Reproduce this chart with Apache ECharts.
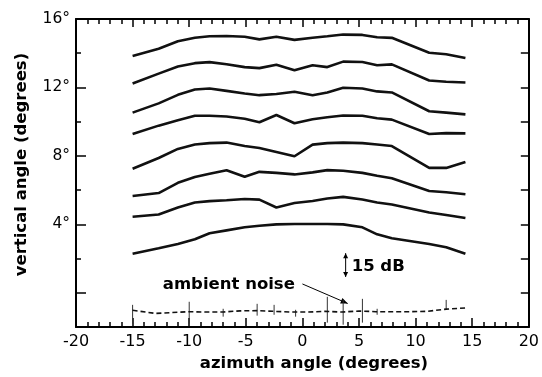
<!DOCTYPE html>
<html><head><meta charset="utf-8">
<script src="https://cdn.jsdelivr.net/npm/echarts@6/dist/echarts.min.js"></script>
<style>html,body{margin:0;padding:0;background:#fff}#c{width:542px;height:377px}</style>
</head><body><div id="c"></div>
<script>
// azimuth sample positions (degrees)
const azimuth = [-15, -12.7, -11, -9.5, -8.2, -6.7, -5.1, -3.8, -2.3, -0.7, 0.9, 2.2, 3.6, 5.3, 6.6, 7.9, 11.2, 12.7, 14.4];
// response curves, plotted at their vertical-angle offsets (top to bottom)
const curve1 = [13.84, 14.26, 14.70, 14.90, 14.99, 15.01, 14.96, 14.81, 14.96, 14.78, 14.90, 14.99, 15.09, 15.07, 14.93, 14.90, 14.03, 13.94, 13.72];
const curve2 = [12.23, 12.81, 13.22, 13.42, 13.48, 13.36, 13.19, 13.13, 13.33, 13.00, 13.30, 13.19, 13.51, 13.49, 13.30, 13.35, 12.41, 12.33, 12.29];
const curve3 = [10.53, 11.07, 11.57, 11.88, 11.94, 11.80, 11.65, 11.55, 11.62, 11.75, 11.55, 11.71, 11.98, 11.94, 11.77, 11.71, 10.61, 10.53, 10.43];
const curve4 = [9.28, 9.77, 10.09, 10.35, 10.35, 10.30, 10.17, 9.97, 10.39, 9.91, 10.14, 10.26, 10.36, 10.35, 10.20, 10.12, 9.28, 9.33, 9.32];
const curve5 = [7.25, 7.88, 8.41, 8.67, 8.75, 8.78, 8.58, 8.46, 8.23, 7.98, 8.66, 8.75, 8.78, 8.75, 8.67, 8.58, 7.30, 7.30, 7.65];
const curve6 = [5.66, 5.83, 6.43, 6.77, 6.96, 7.16, 6.78, 7.07, 7.01, 6.92, 7.04, 7.17, 7.13, 7.01, 6.84, 6.70, 5.95, 5.88, 5.76];
const curve7 = [4.45, 4.58, 4.99, 5.28, 5.36, 5.41, 5.48, 5.45, 4.99, 5.25, 5.37, 5.51, 5.61, 5.45, 5.28, 5.16, 4.70, 4.55, 4.37];
const curve8 = [2.28, 2.61, 2.86, 3.13, 3.48, 3.65, 3.83, 3.92, 4.00, 4.02, 4.02, 4.02, 4.00, 3.83, 3.42, 3.19, 2.86, 2.67, 2.28];
const curves = [curve1, curve2, curve3, curve4, curve5, curve6, curve7, curve8];

// ambient noise
const noiseX = [-15, -13, -11.5, -10, -8.5, -7, -5.5, -4, -2.5, -1, 0.5, 2, 3.5, 5, 6.5, 8, 9.5, 11, 12.7, 14.4];
const noiseY = [-1.02, -1.2, -1.15, -1.1, -1.12, -1.12, -1.05, -1.04, -1.08, -1.12, -1.12, -1.08, -1.12, -1.06, -1.1, -1.1, -1.1, -1.08, -0.95, -0.88];
const errX = [-15, -10, -7, -4, -2.5, -0.6, 2.2, 3.6, 5.3, 6.6, 12.7];
const errLow = [-1.80, -1.80, -1.39, -1.33, -1.28, -1.39, -1.74, -1.86, -1.74, -1.28, -0.99];
const errHigh = [-0.70, -0.52, -0.93, -0.64, -0.70, -0.99, -0.23, -0.41, -0.35, -0.93, -0.41];

// tick labels
const yLabelValues = [4, 8, 12, 16];
const yMajorTicks = [0, 4, 8, 12, 16];

// annotations (data coordinates)
const noiseLabel = { text: 'ambient noise', at: [-6.5, 0.46] };
const noiseArrow = [[0.0, 0.52], [4.0, -0.62]];
const dbLabel = { text: '15 dB', at: [4.35, 1.5] };
const dbArrow = [[3.82, 2.32], [3.82, 0.93]];

const chart = echarts.init(document.getElementById('c'), null, { renderer: 'canvas' });
const FONT = 'DejaVu Sans';
const axisLineStyle = { color: '#000', width: 2 };

const series = curves.map(c => ({
  type: 'line',
  data: azimuth.map((x, i) => [x, c[i]]),
  symbol: 'none',
  lineStyle: { color: '#111', width: 2.6 },
  silent: true,
  animation: false
}));
series.push({
  type: 'line',
  data: noiseX.map((x, i) => [x, noiseY[i]]),
  symbol: 'none',
  lineStyle: { color: '#111', width: 1.6, type: [5, 3] },
  animation: false
});
series.push({
  type: 'custom',
  data: errX.map((x, i) => [x, errLow[i], errHigh[i]]),
  renderItem: (params, api) => {
    const a = api.coord([api.value(0), api.value(1)]);
    const b = api.coord([api.value(0), api.value(2)]);
    return { type: 'line', shape: { x1: a[0], y1: a[1], x2: b[0], y2: b[1] }, style: { stroke: '#333', lineWidth: 1 } };
  },
  animation: false
});

chart.setOption({
  backgroundColor: '#fff',
  animation: false,
  grid: { left: 76, right: 13, top: 19, bottom: 46 },
  xAxis: [{
    type: 'value', position: 'bottom', min: -20, max: 20, interval: 5,
    axisLine: { onZero: false, lineStyle: axisLineStyle },
    axisTick: { inside: true, length: 9, lineStyle: { color: '#000', width: 1.5 } },
    minorTick: { show: true, splitNumber: 5, length: 5, lineStyle: { color: '#000', width: 1.5 } },
    axisLabel: { fontFamily: FONT, fontSize: 16, color: '#000', margin: 7 },
    splitLine: { show: false },
    name: 'azimuth angle (degrees)', nameLocation: 'middle', nameGap: 27,
    nameTextStyle: { fontFamily: FONT, fontWeight: 'bold', fontSize: 16.5, color: '#000', padding: [0, 0, 0, 23] }
  }, {
    type: 'value', position: 'top', min: -20, max: 20, interval: 5,
    axisLine: { onZero: false, lineStyle: axisLineStyle },
    axisTick: { inside: true, length: 8, lineStyle: { color: '#000', width: 1.5 } },
    minorTick: { show: true, splitNumber: 5, length: 5, lineStyle: { color: '#000', width: 1.5 } },
    axisLabel: { show: false }, splitLine: { show: false }
  }],
  yAxis: [{
    type: 'value', position: 'left', min: -2, max: 16, interval: 2,
    axisLine: { onZero: false, lineStyle: axisLineStyle },
    axisTick: { inside: true, length: 10, customValues: yMajorTicks, lineStyle: { color: '#000', width: 1.5 } },
    axisLabel: { fontFamily: FONT, fontSize: 15.5, color: '#000', margin: 6, customValues: yLabelValues,
      formatter: v => yLabelValues.indexOf(v) >= 0 ? v + '°' : '' },
    splitLine: { show: false },
    name: 'vertical angle (degrees)', nameLocation: 'middle', nameGap: 46,
    nameTextStyle: { fontFamily: FONT, fontWeight: 'bold', fontSize: 16.5, color: '#000', padding: [0, 0, 0, 17] }
  }, {
    type: 'value', position: 'left', min: -2, max: 16, interval: 2,
    axisLine: { show: false, onZero: false },
    axisTick: { inside: true, length: 5, lineStyle: { color: '#000', width: 1.5 } },
    axisLabel: { show: false }, splitLine: { show: false }
  }, {
    type: 'value', position: 'right', min: -2, max: 16, interval: 2,
    axisLine: { onZero: false, lineStyle: axisLineStyle },
    axisTick: { inside: true, length: 8, lineStyle: { color: '#000', width: 1.5 } },
    axisLabel: { show: false }, splitLine: { show: false }
  }],
  series: series
});

function px(p) { return chart.convertToPixel({ xAxisIndex: 0, yAxisIndex: 0 }, p); }
function arrowHead(tip, from, len, half) {
  const dx = tip[0] - from[0], dy = tip[1] - from[1];
  const d = Math.hypot(dx, dy) || 1;
  const ux = dx / d, uy = dy / d;
  const bx = tip[0] - ux * len, by = tip[1] - uy * len;
  return { type: 'polygon', shape: { points: [tip, [bx - uy * half, by + ux * half], [bx + uy * half, by - ux * half]] }, style: { fill: '#000' } };
}
const na0 = px(noiseArrow[0]), na1 = px(noiseArrow[1]);
const da0 = px(dbArrow[0]), da1 = px(dbArrow[1]);
const nl = px(noiseLabel.at), dl = px(dbLabel.at);
chart.setOption({
  graphic: [
    { type: 'text', x: nl[0], y: nl[1], style: { text: noiseLabel.text, font: 'bold 16.5px "DejaVu Sans"', fill: '#000', align: 'center', verticalAlign: 'middle' } },
    { type: 'line', shape: { x1: na0[0], y1: na0[1], x2: na1[0], y2: na1[1] }, style: { stroke: '#000', lineWidth: 1 } },
    arrowHead(na1, na0, 7, 3),
    { type: 'text', x: dl[0], y: dl[1], style: { text: dbLabel.text, font: 'bold 16.5px "DejaVu Sans"', fill: '#000', align: 'left', verticalAlign: 'middle' } },
    { type: 'line', shape: { x1: da0[0], y1: da0[1], x2: da1[0], y2: da1[1] }, style: { stroke: '#000', lineWidth: 1 } },
    arrowHead(da0, da1, 5, 2.5),
    arrowHead(da1, da0, 5, 2.5)
  ]
});
</script>
</body></html>
